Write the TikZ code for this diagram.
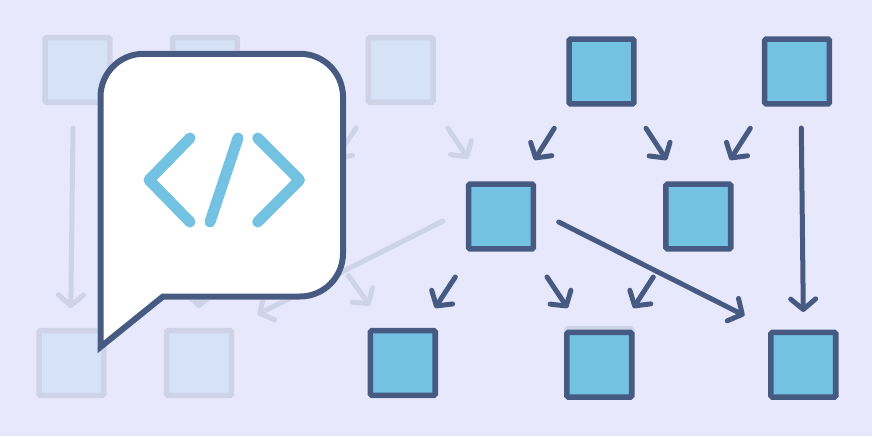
\documentclass[tikz,border=0pt]{standalone}
\usetikzlibrary{arrows.meta}
\definecolor{bgc}{HTML}{E8E8FC}
\definecolor{darkc}{HTML}{475B82}
\definecolor{bluec}{HTML}{74C2E1}
\definecolor{fadefill}{HTML}{D5E2F8}
\definecolor{fadeline}{HTML}{CFD3E8}
\tikzset{
  x=1pt,y=-1pt,
  boxbase/.style={rectangle,minimum size=64.8pt,inner sep=0pt,line width=5.6pt,rounded corners=1.5pt},
  darkbox/.style={boxbase,draw=darkc,fill=bluec},
  fadebox/.style={boxbase,draw=fadeline,fill=fadefill},
  barb/.style={line width=5pt,line cap=round,line join=round,-{Straight Barb[length=10.5pt,width=25pt,round]}},
  darkarrow/.style={barb,draw=darkc},
  fadearrow/.style={barb,draw=fadeline},
  bubble/.style={line width=6pt,draw=darkc,fill=white,line join=miter},
  codeglyph/.style={line width=11pt,draw=bluec,line cap=round,line join=round}
}
\begin{document}
\begin{tikzpicture}
\useasboundingbox (0,0) rectangle (872,436);
\fill[bgc] (0,0) rectangle (872,436);

% faded graph
\node[fadebox] (fa) at (77.5,70) {};
\node[fadebox] (fb) at (205,70) {};
\node[fadebox] (fc) at (400.7,70) {};
\node[fadebox] (fd) at (71.5,363) {};
\node[fadebox] (fe) at (199,363) {};
\node[fadebox] (ff) at (599.3,361) {};

\coordinate (f1s) at (73,128); \coordinate (f1e) at (70.8,308);
\coordinate (f2s) at (205,128); \coordinate (f2e) at (199,308);
\coordinate (f3s) at (356,128); \coordinate (f3e) at (335,159.5);
\coordinate (f4s) at (447.7,128); \coordinate (f4e) at (468.2,158.5);
\coordinate (f5s) at (443,221); \coordinate (f5e) at (257.5,314.5);
\coordinate (f6s) at (348.3,275.5); \coordinate (f6e) at (370,305.5);
\draw[fadearrow] (f1s) -- (f1e);
\draw[fadearrow] (f2s) -- (f2e);
\draw[fadearrow] (f3s) -- (f3e);
\draw[fadearrow] (f4s) -- (f4e);
\draw[fadearrow] (f5s) -- (f5e);
\draw[fadearrow] (f6s) -- (f6e);

% dark graph
\node[darkbox] (g) at (601.5,71.5) {};
\node[darkbox] (h) at (797,71.5) {};
\node[darkbox] (i) at (501,216.5) {};
\node[darkbox] (j) at (698.3,216.5) {};
\node[darkbox] (k) at (402.8,363) {};
\node[darkbox] (l) at (599.3,364.7) {};
\node[darkbox] (m) at (803.3,364.7) {};

\coordinate (a1s) at (554.3,128.3); \coordinate (a1e) at (534.3,160);
\coordinate (a2s) at (646,128.3); \coordinate (a2e) at (666.7,160);
\coordinate (a3s) at (750.3,128.3); \coordinate (a3e) at (730,160);
\coordinate (a4s) at (801.3,128); \coordinate (a4e) at (803.3,312);
\coordinate (a5s) at (558.7,222); \coordinate (a5e) at (744.5,315.5);
\coordinate (a6s) at (455.3,277); \coordinate (a6e) at (435,308);
\coordinate (a7s) at (547,277); \coordinate (a7e) at (567.7,308);
\coordinate (a8s) at (653.3,277); \coordinate (a8e) at (633.3,308);
\draw[darkarrow] (a1s) -- (a1e);
\draw[darkarrow] (a2s) -- (a2e);
\draw[darkarrow] (a3s) -- (a3e);
\draw[darkarrow] (a4s) -- (a4e);
\draw[darkarrow] (a5s) -- (a5e);
\draw[darkarrow] (a6s) -- (a6e);
\draw[darkarrow] (a7s) -- (a7e);
\draw[darkarrow] (a8s) -- (a8e);

% speech bubble
\coordinate (tip) at (100.5,347);
\coordinate (tl) at (100.5,53.8);
\coordinate (tr) at (343,53.8);
\coordinate (br) at (343,296.5);
\coordinate (bl) at (163,296.5);
\begin{scope}[xshift=-1.2pt,yshift=0.5pt]
\draw[line width=6pt,white,rounded corners=43pt] (tip) -- (tl) -- (tr) -- (br) -- (bl);
\end{scope}
\path[bubble,rounded corners=43pt] (tip) -- (tl) -- (tr) -- (br) [sharp corners] -- (bl) -- cycle;

% code glyph
\draw[codeglyph] (190,138) -- (149,180) -- (190,222);
\draw[codeglyph] (257.7,138) -- (299.5,180) -- (257.7,222);
\draw[codeglyph] (238,138) -- (210,222);
\end{tikzpicture}
\end{document}
